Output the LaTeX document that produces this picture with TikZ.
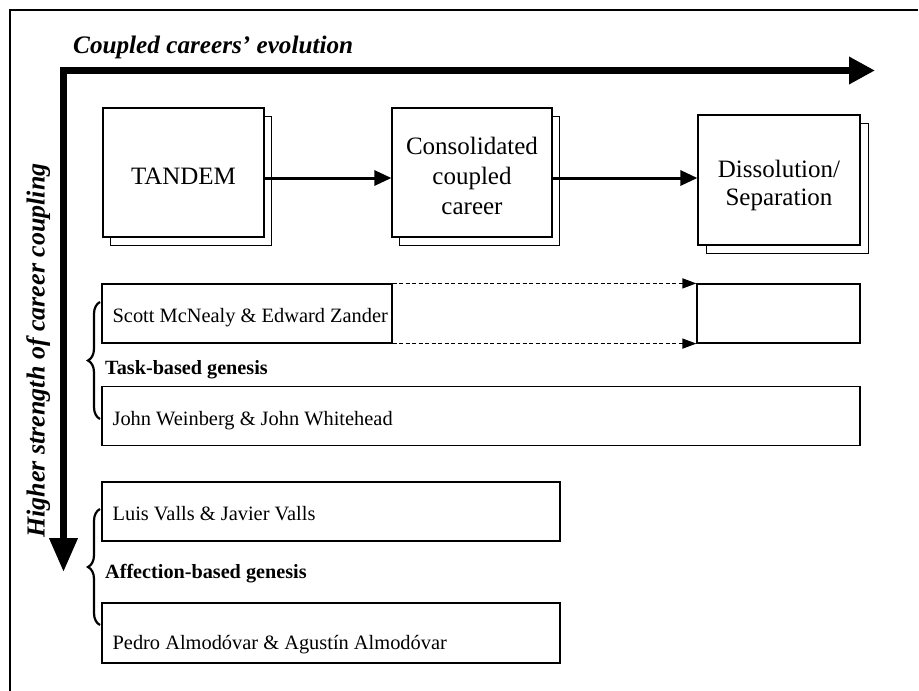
\documentclass[tikz,border=0pt]{standalone}
\usepackage{fontspec}
\setmainfont{Liberation Serif}
\usetikzlibrary{arrows.meta,decorations.pathreplacing}
\begin{document}
\begin{tikzpicture}[x=1pt,y=-1pt,
  stagebox/.style={draw, line width=1.2pt, fill=white, inner sep=0pt},
  stagetext/.style={align=center, inner sep=0pt, font=\fontsize{25}{30}\selectfont},
  shadowbox/.style={draw, line width=0.9pt, fill=white, inner sep=0pt},
  pairbox/.style={draw, line width=1.2pt, inner sep=0pt, minimum height=59pt},
  pairtext/.style={anchor=base west, inner sep=0pt, font=\fontsize{20.4}{24}\selectfont},
  genlabel/.style={anchor=base west, inner sep=0pt, font=\fontsize{20.2}{24}\selectfont\bfseries},
  axislabel/.style={inner sep=0pt, font=\fontsize{25.2}{30}\selectfont\bfseries\itshape},
  flowarrow/.style={line width=3pt, -{Triangle[length=17pt,width=15pt]}},
  dasharrow/.style={line width=1.3pt, dash pattern=on 4pt off 2.5pt,
    -{Triangle[length=14pt,width=10pt]}},
  groupbrace/.style={line width=2.2pt, decorate,
    decoration={brace, amplitude=12pt, aspect=0.5}},
]
\useasboundingbox (0,0) rectangle (919,691);

% frame
\draw[line width=1.3pt] (10,691) -- (10,10) -- (918,10);

% axes
\coordinate (corner) at (63.5,70.5);
\coordinate (vtip) at (63.5,572);
\coordinate (htip) at (875,70.5);
\draw[line width=7pt, line join=miter,
  {Triangle[length=34pt,width=27pt]}-{Triangle[length=26pt,width=26pt]}]
  (vtip) -- (corner) -- (htip);

\node[axislabel, anchor=base west] (evol) at (73,53) {Coupled careers’ evolution};
\node[axislabel, font=\fontsize{26}{30}\selectfont\bfseries\itshape, anchor=base, rotate=90] (coup) at (44.5,350.5) {Higher strength of career coupling};

% stage boxes with shadows
\node[shadowbox, minimum width=161pt, minimum height=129pt] (tandemS) at (191,180.5) {};
\node[shadowbox, minimum width=160pt, minimum height=129pt] (consS) at (479.5,180.5) {};
\node[shadowbox, minimum width=162pt, minimum height=130pt] (dissS) at (787,188) {};

\node[stagebox, minimum width=161pt, minimum height=129pt] (tandem) at (183.5,172.5) {};
\node[stagebox, minimum width=160pt, minimum height=129pt] (cons) at (472,172.5) {};
\node[stagebox, minimum width=162pt, minimum height=130pt] (diss) at (779,180) {};

\node[stagetext] (tandemT) at ([yshift=-4pt]tandem.center) {TANDEM};
\node[stagetext] (consT) at ([yshift=-3.5pt]cons.center) {Consolidated\\coupled\\career};
\node[stagetext, font=\fontsize{25}{28}\selectfont] (dissT) at ([yshift=-5pt]diss.center) {Dissolution/\\Separation};

\coordinate (row1) at (0,178);
\draw[flowarrow] (tandem.east |- row1) -- (cons.west |- row1);
\draw[flowarrow] (cons.east |- row1) -- (diss.west |- row1);

% pair boxes
\node[pairbox, minimum width=290pt] (scott) at (247,313.5) {};
\node[pairbox, minimum width=163pt] (empty) at (778.5,313.5) {};
\draw[dasharrow] (scott.north east) -- (empty.north west);
\draw[dasharrow] (scott.south east) -- (empty.south west);

\node[pairbox, minimum width=758pt] (weinberg) at (481,416) {};
\node[pairbox, minimum width=458pt] (luis) at (331,511.5) {};
\node[pairbox, minimum width=458pt, minimum height=60pt] (pedro) at (331,633) {};

\node[pairtext] (scottT) at ([xshift=11pt,yshift=-8.5pt]scott.west) {Scott McNealy \& Edward Zander};
\node[pairtext] (weinbergT) at ([xshift=11pt,yshift=-9pt]weinberg.west) {John Weinberg \& John Whitehead};
\node[pairtext] (luisT) at ([xshift=11pt,yshift=-8.5pt]luis.west) {Luis Valls \& Javier Valls};
\node[pairtext] (pedroT) at ([xshift=11pt,yshift=-16pt]pedro.west) {Pedro Almodóvar \& Agustín Almodóvar};

% genesis labels and braces
\node[genlabel] (task) at (105,374) {Task-based genesis};
\node[genlabel] (aff) at (105,578) {Affection-based genesis};

\coordinate (tb1) at (100,419);
\coordinate (tb2) at (100,302);
\coordinate (ab1) at (100,625);
\coordinate (ab2) at (100,509);
\draw[groupbrace] (tb1) -- (tb2);
\draw[groupbrace] (ab1) -- (ab2);
\end{tikzpicture}
\end{document}
